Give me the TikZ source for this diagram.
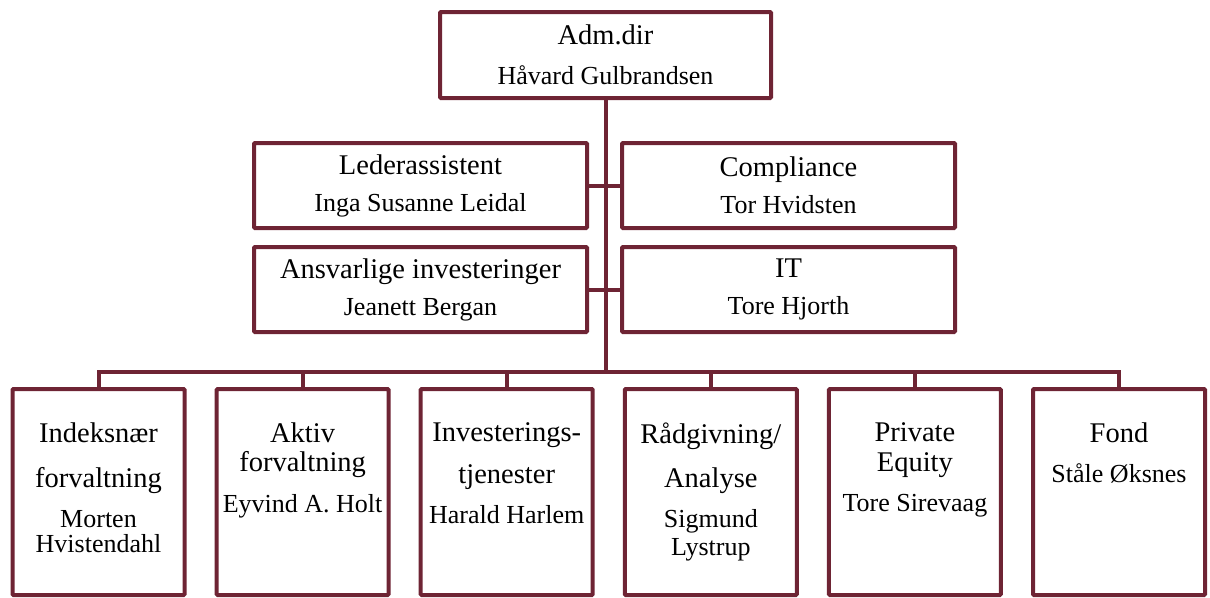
\documentclass[tikz,border=0pt]{standalone}
\usepackage{fontspec}
\setmainfont{Liberation Serif}
\usepackage{tikz}
\usetikzlibrary{calc}
\definecolor{orgred}{RGB}{110,36,52}
\newcommand{\unitfont}{\fontsize{28.5}{25}\selectfont\lineskiplimit=-100pt}
\newcommand{\namefont}{\fontsize{26}{25}\selectfont}
\tikzstyle{head} = [draw=orgred, line width=4pt, rounded corners=1pt, inner sep=0pt,
minimum width=331pt, minimum height=86pt, align=center, font=\unitfont]
\tikzstyle{staff} = [head, minimum width=333pt, minimum height=85pt]
\tikzstyle{unit} = [draw=orgred, line width=4pt, rounded corners=1pt, inner sep=0pt,
minimum width=172pt, minimum height=206pt]
\tikzstyle{unittext} = [anchor=north, align=center, inner sep=0pt, font=\unitfont]
\tikzstyle{wire} = [draw=orgred, line width=4pt]

\begin{document}
\begin{tikzpicture}[x=1pt,y=-1pt,node distance=204.1pt]
      \useasboundingbox (0,0) rectangle (1210,597);
      \node [head] (dir) at (605.5,55) {Adm.dir\\[15pt]{\namefont Håvard Gulbrandsen}};
      \node [staff] (ass) at (420.5,185.5) {Lederassistent\\[12pt]{\namefont Inga Susanne Leidal}};
      \node [staff] (comp) at (788.5,185.5) {Compliance\\[12pt]{\namefont Tor Hvidsten}};
      \node [staff] (ans) at (420.5,289.5) {Ansvarlige investeringer\\[12pt]{\namefont Jeanett Bergan}};
      \node [staff] (it) at (788.5,289.5) {IT\\[12pt]{\namefont Tore Hjorth}};
      % avdelinger
      \node [unit] (idx) at (98.5,492) {};
      \node [unit] (akt) [right of=idx] {};
      \node [unit] (inv) [right of=akt] {};
      \node [unit] (rad) [right of=inv] {};
      \node [unit] (pe) [right of=rad] {};
      \node [unit] (fond) [right of=pe] {};
      \node [unittext] (idxt) at ([yshift=-35.5pt]idx.north) {Indeksnær\\[20pt]forvaltning\\[15pt]{\namefont Morten}\\{\namefont Hvistendahl}};
      \node [unittext] (aktt) at ([yshift=-35.5pt]akt.north) {Aktiv\\[4pt]forvaltning\\[16pt]{\namefont Eyvind A. Holt}};
      \node [unittext] (invt) at ([yshift=-35.5pt]inv.north) {Investerings-\\[17pt]tjenester\\[15pt]{\namefont Harald Harlem}};
      \node [unittext] (radt) at ([yshift=-35.5pt]rad.north) {Rådgivning/\\[19pt]Analyse\\[15pt]{\namefont Sigmund}\\[3pt]{\namefont Lystrup}};
      \node [unittext] (pet) at ([yshift=-35.5pt]pe.north) {Private\\[5pt]Equity\\[15pt]{\namefont Tore Sirevaag}};
      \node [unittext] (fondt) at ([yshift=-35.5pt]fond.north) {Fond\\[15pt]{\namefont Ståle Øksnes}};
      % linjer
      \coordinate (bus) at (605.5,372);
      \draw [wire] (dir.south) -- (bus);
      \draw [wire] (ass.east) -- (comp.west);
      \draw [wire] (ans.east) -- (it.west);
      \foreach \u in {idx,akt,inv,rad,pe,fond}
        \draw [wire] (bus) -| (\u.north);
\end{tikzpicture}
\end{document}
